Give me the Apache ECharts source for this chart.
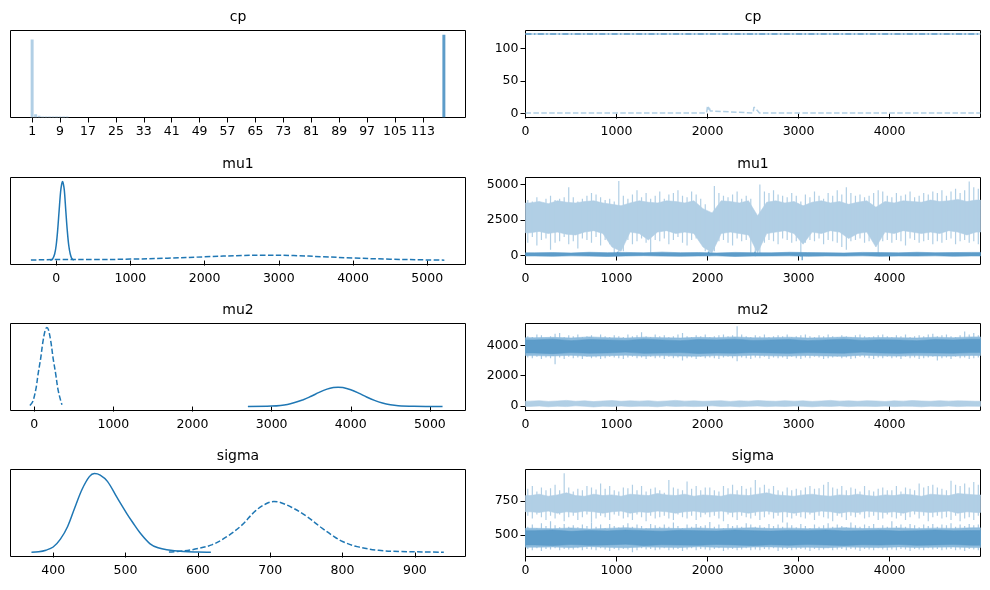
<!DOCTYPE html>
<html><head><meta charset="utf-8">
<script src="https://cdn.jsdelivr.net/npm/echarts@6/dist/echarts.min.js"></script>
<style>html,body{margin:0;padding:0;background:#fff}#c{width:990px;height:590px}</style>
</head><body><div id="c"></div>
<script>
// ================= DATA =================
const DRAWS = 5000;
const panelTitles = ['cp', 'mu1', 'mu2', 'sigma'];

// tick labels
const cpHistTicks = [1, 9, 17, 25, 33, 41, 49, 57, 65, 73, 81, 89, 97, 105, 113];
const mu1KdeTicks = [0, 1000, 2000, 3000, 4000, 5000];
const mu2KdeTicks = [0, 1000, 2000, 3000, 4000, 5000];
const sigmaKdeTicks = [400, 500, 600, 700, 800, 900];
const traceXTicks = [0, 1000, 2000, 3000, 4000];
const cpTraceYTicks = [0, 50, 100];
const mu1TraceYTicks = [0, 2500, 5000];
const mu2TraceYTicks = [0, 2000, 4000];
const sigmaTraceYTicks = [500, 750];

// cp histogram (relative heights)
const cpHistLightX = [1, 2, 3, 4, 5, 6, 7, 8, 9, 10, 11];
const cpHistLightH = [0.94, 0.04, 0.02, 0.012, 0.012, 0.012, 0.012, 0.012, 0.012, 0.012, 0.012];
const cpHistDarkX = [119];
const cpHistDarkH = [1.0];

// KDE curves (relative density)
const mu1SolidX = [-80, -50, -20, 0, 20, 40, 60, 75, 85, 95, 110, 130, 150, 170, 190, 210, 238];
const mu1SolidY = [0.005, 0.016, 0.083, 0.19, 0.38, 0.63, 0.87, 0.97, 1.0, 0.98, 0.89, 0.63, 0.38, 0.19, 0.083, 0.029, 0.005];
const mu1DashX = [-340, 0, 500, 1000, 1500, 2000, 2500, 2800, 3200, 3600, 4000, 4500, 5000, 5230];
const mu1DashY = [0.006, 0.012, 0.012, 0.018, 0.03, 0.047, 0.064, 0.068, 0.063, 0.048, 0.032, 0.017, 0.008, 0.005];
const mu2SolidX = [2700, 3000, 3200, 3400, 3500, 3600, 3700, 3780, 3840, 3900, 4000, 4100, 4200, 4300, 4400, 4500, 4600, 4800, 5000, 5160];
const mu2SolidY = [0.001, 0.006, 0.027, 0.086, 0.13, 0.179, 0.22, 0.24, 0.244, 0.24, 0.212, 0.17, 0.121, 0.078, 0.045, 0.023, 0.011, 0.003, 0.001, 0.0005];
const mu2DashX = [-55, -20, 20, 50, 80, 110, 140, 160, 180, 210, 240, 270, 300, 330, 350];
const mu2DashY = [0.013, 0.06, 0.216, 0.42, 0.6, 0.82, 0.97, 1.0, 0.97, 0.82, 0.6, 0.42, 0.216, 0.09, 0.022];
const sigmaSolidX = [370, 380, 390, 400, 410, 420, 430, 440, 450, 457, 465, 475, 488, 502, 510, 520, 534, 545, 557, 580, 600, 618];
const sigmaSolidY = [0.004, 0.01, 0.03, 0.07, 0.17, 0.33, 0.57, 0.8, 0.96, 1.0, 0.98, 0.9, 0.7, 0.49, 0.38, 0.25, 0.11, 0.06, 0.035, 0.013, 0.006, 0.003];
const sigmaDashX = [560, 580, 600, 620, 640, 660, 680, 695, 705, 715, 730, 750, 770, 787, 800, 820, 850, 880, 910, 940];
const sigmaDashY = [0.008, 0.02, 0.05, 0.1, 0.2, 0.34, 0.53, 0.62, 0.645, 0.63, 0.57, 0.46, 0.32, 0.21, 0.14, 0.075, 0.028, 0.014, 0.008, 0.004];

// ---- traces: per-bin envelopes, bins evenly spread over the 5000 draws ----
const cpLightTrace = [[0,1],[480,1],[500,4],[520,1],[970,1],[985,3],[1000,1],[1030,1],[1045,4],[1060,1],[1370,1],[1380,2],[1390,1],[1990,1],[2000,12],[2008,6],[2015,11],[2022,8],[2030,4],[2040,1],[2500,1],[2510,10],[2520,7],[2530,9],[2545,5],[2560,3],[2570,1],[3030,1],[3040,4],[3055,1],[3870,1],[3880,3],[3890,1],[4020,1],[4030,3],[4040,1],[4280,1],[4290,2],[4300,1],[4999,1]];
const cpDarkLevel = 122;

// mu1, chain far from the others: extremes (100 bins) and dense core (50 bins)
const mu1LightHi = [3900,3800,4100,3700,4000,4200,3900,4000,4100,4800, 4100,3800,4000,4200,4400,4300,4100,3900,4000,3800,
  5250,4200,4000,4300,4600,4100,4400,4000,4200,4500, 4000,4300,4400,4600,4200,4100,4500,4300,4000,3600,
  3000,4900,4400,4200,4100,4300,4500,4000,4200,4000, 2800,5000,4500,4400,4600,4300,4200,4100,4400,4200,
  3800,4300,4100,4500,4200,4000,4400,4200,4600,4300, 4800,4400,4200,4300,4100,4200,4400,4600,4500,4200,
  4100,4400,4200,4300,4500,4100,4200,4400,4300,4500, 4400,4600,4200,4500,4700,4400,4600,5200,4800,4700];
const mu1LightLo = [900,1300,700,1100,1200,400,900,1000,1300,800, 1000,500,1200,1100,900,1300,700,1100,800,100,
  0,300,1100,800,1000,1200,900,200,1100,1000, 1200,800,1100,1300,900,700,1100,1200,900,300,
  -50,300,1000,1100,900,700,1200,1000,1100,200, -50,100,900,1100,1000,800,1200,1100,900,1000,
  -100,900,1100,1000,1200,800,1100,1000,900,600, 400,1000,1100,1200,900,1000,1100,0,1000,1100,
  900,1100,1000,700,1200,1100,900,1000,1100,800, 1000,900,1100,1200,800,1000,1100,900,1000,800];
const mu1LightCoreHi = [3700,3800,3650,3850,3750, 3700,3800,3850,3700,3600, 3500,3700,3850,3750,3700, 3850,3800,3700,3850,3300,
  3000,3850,3800,3700,3850, 2800,3750,3850,3700,3800, 3500,3750,3850,3700,3800, 3600,3750,3850,3400,3800,
  3700,3850,3800,3750,3900, 3800,3850,3950,3800,3900];
const mu1LightCoreLo = [1600,1700,1550,1650,1500, 1450,1650,1750,1550,600, 300,1650,1550,1100,1650, 1750,1550,1650,1550,600,
  200,1550,1650,1550,1450, 200,1550,1650,1750,1550, 800,1650,1550,1750,1650, 1200,1550,1650,600,1650,
  1550,1750,1650,1550,1650, 1550,1750,1650,1450,1650];
const mu1DarkHi = [190,210,180,230,200,220,190,240,200,210,180,220,200,190,230,210,200,180,220,210,190,230,200,210,220];
const mu1DarkLo = [-30,-50,-20,-40,-60,-30,-10,-40,-50,-30,-20,-60,-40,-30,-20,-50,-30,-40,-20,-50,-30,-40,-20,-50,-30];
const mu1DarkCenter = 85;
const mu1DarkSpikes = [[3040, -330], [1010, 260], [2010, 280], [2520, 270]];

// mu2, three overlapping chains: extremes (100 bins), fringe and core (25 bins)
const mu2DarkHi = [4600,4550,4700,4650,4500,4600,4750,4800,4550,4650, 4600,4700,4550,4600,4650,4500,4700,4600,4550,4650,
  4600,4550,4700,4600,4650,4850,4600,4550,4700,4600, 4650,4550,4600,4700,4800,4600,4550,4650,4600,4700,
  4550,4600,4650,4700,4600,4650,5250,4700,4600,4550, 4650,4600,4700,4550,4600,4650,4600,4700,4550,4600,
  4650,4700,4600,4550,4650,4600,4700,4600,4550,4650, 4600,4550,4650,4700,4600,4550,4600,4650,4700,4600,
  4550,4650,4600,4700,4550,4600,4650,4600,4700,4750, 4600,4650,4700,4600,4550,4650,4900,4700,4800,4650];
const mu2DarkLo = [3200,3150,3250,3100,3200,3150,2750,3200,3100,3250, 3150,3200,3100,3250,3150,3200,3100,3150,3250,3200,
  3150,3100,3200,3250,3150,3200,3100,3250,3150,3200, 3100,3250,3150,3200,3000,3150,3200,3100,3250,3150,
  3200,3150,3100,3200,3250,3150,2950,3200,3150,3100, 3200,3150,3250,3100,3200,3150,3200,3100,3250,3150,
  3100,3200,3150,3250,3200,3100,3150,3200,3250,3150, 3200,3100,3150,3250,3200,3150,3100,3200,3150,3250,
  3150,3200,3100,3250,3150,3200,3100,3150,3200,3250, 3000,3150,3200,3100,3250,3150,3200,3100,3150,3200];
const mu2MidHi = [4500,4520,4480,4550,4500,4470,4530,4500,4480,4520,4500,4550,4490,4500,4530,4480,4500,4540,4490,4510,4500,4480,4530,4500,4550];
const mu2MidLo = [3320,3300,3340,3280,3310,3350,3290,3320,3300,3280,3320,3300,3340,3310,3290,3330,3300,3280,3350,3310,3290,3320,3300,3290,3330];
const mu2CoreHi = [4350,4400,4300,4380,4350,4320,4400,4350,4300,4380,4350,4400,4320,4350,4380,4300,4350,4400,4320,4360,4350,4300,4380,4350,4400];
const mu2CoreLo = [3500,3450,3520,3480,3500,3550,3470,3500,3520,3460,3500,3480,3530,3500,3470,3520,3500,3480,3550,3500,3470,3510,3500,3480,3520];
const mu2LightHi = [330,360,310,340,380,320,350,300,340,370,320,350,330,360,310,340,380,330,350,320,340,360,310,350,330,
  370,340,320,360,330,350,310,340,380,330,350,320,360,340,310,350,330,370,340,320,360,330,350,340,320];
const mu2LightLo = [-20,10,-40,0,-30,20,-10,-50,0,-20,10,-30,0,-10,-40,10,-20,0,-30,-10,20,-20,0,-40,-10,
  10,-30,0,-20,10,-10,-40,0,-20,10,-30,0,-10,-20,10,-30,0,-10,-40,0,-20,10,-30,0,-10];

// sigma
const sigmaLightHi = [840,860,820,850,830,845,870,830,955,850, 820,840,830,860,850,835,880,840,860,830,
  820,850,845,870,830,860,820,840,850,830, 810,905,850,840,830,895,840,860,830,850,
  850,830,820,860,845,870,830,860,840,850, 905,850,870,840,860,830,820,850,830,840,
  830,850,860,840,845,870,890,850,840,860, 830,850,840,820,860,830,820,840,850,830,
  830,860,820,850,840,830,880,850,860,870, 850,840,830,900,870,860,880,850,890,870];
const sigmaLightLo = [640,620,650,630,610,640,620,650,600,630, 640,610,630,650,590,620,640,630,610,650,
  640,620,630,610,650,630,600,640,620,630, 640,620,610,650,630,620,640,610,630,650,
  630,640,620,600,650,630,610,640,630,620, 640,610,630,650,620,640,590,630,620,640,
  630,620,650,610,640,630,620,600,640,630, 610,640,630,650,620,630,640,610,620,650,
  630,620,640,610,630,650,620,640,600,630, 640,620,630,610,640,600,620,630,610,640];
const sigmaLightCoreHi = [790,800,785,795,810,790,785,800,790,795, 785,800,795,790,805,795,790,800,785,795,
  790,785,800,795,790,800,810,795,790,785, 795,800,790,785,795,790,800,790,785,795, 790,800,795,785,800,795,790,805,800,795];
const sigmaLightCoreLo = [670,665,675,660,670,665,675,670,660,670, 675,660,670,665,675,670,660,670,675,665,
  670,675,665,670,660,670,675,665,670,660, 670,665,675,670,660,670,665,675,670,665, 670,660,675,670,665,670,675,660,670,665];
const sigmaDarkHi = [560,575,550,585,565,600,570,555,580,560, 570,555,575,565,590,560,575,550,580,565,
  555,570,585,560,575,565,550,580,570,560, 575,560,590,565,550,575,560,580,565,570,
  595,560,575,550,580,565,570,560,585,575, 560,570,555,580,565,575,560,590,570,555,
  580,565,550,575,560,570,585,560,575,565, 555,590,570,560,575,565,580,550,570,560,
  600,565,575,560,580,570,555,575,565,580, 560,575,570,585,560,575,565,580,570,575];
const sigmaDarkLo = [395,385,400,380,395,390,400,385,395,390, 390,400,385,395,390,385,400,390,380,395,
  385,395,390,370,385,400,390,395,385,390, 400,385,390,395,380,390,400,385,395,390,
  385,395,400,380,390,395,385,390,400,385, 390,385,395,390,400,380,390,395,385,390,
  395,390,380,395,385,390,400,385,390,395, 385,395,390,380,395,390,385,400,390,385,
  390,385,395,390,380,395,390,385,400,390, 395,385,390,395,385,390,380,395,390,385];
const sigmaMidHi = [548,545,550,543,547,552,545,548,546,550,544,548,551,546,549,545,547,552,546,548,550,545,549,547,551];
const sigmaMidLo = [408,410,405,412,407,404,410,408,406,411,407,405,409,410,406,408,404,409,407,405,410,406,408,409,405];
const sigmaCoreHi = [530,535,525,532,528,535,530,526,533,530,528,535,530,527,532,530,535,528,530,533,527,530,535,529,531];
const sigmaCoreLo = [425,420,428,422,425,430,420,426,424,422,428,425,420,426,423,427,425,421,426,424,428,422,425,427,423];

// ================= LAYOUT / STYLE =================
const FONT = 'DejaVu Sans';
const C0 = '#1f77b4', LIGHT = '#b1cfe5', DARK = '#5d9cc9', MID = '#8fbcdd', HAIR = '#a9cae3';
const LX = 10.5, RX = 525.5, W = 455, H = 87;
const TOPS = [30.5, 177.5, 323.5, 469.5];

const leftX = [
  {min: -5.2, max: 125.2, ticks: cpHistTicks},
  {min: -615, max: 5515, ticks: mu1KdeTicks},
  {min: -300, max: 5450, ticks: mu2KdeTicks},
  {min: 341, max: 970, ticks: sigmaKdeTicks}
];
const leftY = [[0, 1.05], [-0.05, 1.05], [-0.05, 1.05], [-0.05, 1.05]];
const rightY = [
  {min: -6, max: 127.5, ticks: cpTraceYTicks},
  {min: -630, max: 5490, ticks: mu1TraceYTicks},
  {min: -285, max: 5430, ticks: mu2TraceYTicks},
  {min: 339, max: 983, ticks: sigmaTraceYTicks}
];

const labelStyle = {fontFamily: FONT, fontSize: 12.5, color: '#000', formatter: v => String(v)};
const tickStyle = {show: true, length: 5, inside: false, lineStyle: {color: '#000', width: 1}};

const grids = [], xAxes = [], yAxes = [], series = [], graphics = [];
for (let r = 0; r < 4; r++) {
  grids.push({left: LX, top: TOPS[r], width: W, height: H, show: true, borderColor: '#000', borderWidth: 1, backgroundColor: 'transparent'});
  grids.push({left: RX, top: TOPS[r], width: W, height: H, show: true, borderColor: '#000', borderWidth: 1, backgroundColor: 'transparent'});
  xAxes.push({type: 'value', gridIndex: 2 * r, min: leftX[r].min, max: leftX[r].max,
    axisLine: {show: false}, splitLine: {show: false},
    axisTick: Object.assign({}, tickStyle, {customValues: leftX[r].ticks}),
    axisLabel: Object.assign({}, labelStyle, {margin: 8, customValues: leftX[r].ticks})});
  xAxes.push({type: 'value', gridIndex: 2 * r + 1, min: 0, max: DRAWS - 1,
    axisLine: {show: false}, splitLine: {show: false},
    axisTick: Object.assign({}, tickStyle, {customValues: traceXTicks}),
    axisLabel: Object.assign({}, labelStyle, {margin: 8, customValues: traceXTicks})});
  yAxes.push({type: 'value', gridIndex: 2 * r, min: leftY[r][0], max: leftY[r][1],
    axisLine: {show: false}, splitLine: {show: false}, axisTick: {show: false}, axisLabel: {show: false}});
  yAxes.push({type: 'value', gridIndex: 2 * r + 1, min: rightY[r].min, max: rightY[r].max,
    axisLine: {show: false}, splitLine: {show: false},
    axisTick: Object.assign({}, tickStyle, {customValues: rightY[r].ticks}),
    axisLabel: Object.assign({}, labelStyle, {margin: 7, customValues: rightY[r].ticks})});
  [LX, RX].forEach(function (gx) {
    graphics.push({type: 'text', x: gx + W / 2, y: TOPS[r] - 13.5, silent: true,
      style: {text: panelTitles[r], font: '14px "DejaVu Sans"', fill: '#000', textAlign: 'center', textVerticalAlign: 'middle'}});
  });
}

function zip(xs, ys) { return xs.map((x, i) => [x, ys[i]]); }

function kde(ax, xs, ys, dashed) {
  return {type: 'line', xAxisIndex: ax, yAxisIndex: ax, data: zip(xs, ys), showSymbol: false, smooth: 0.35,
    silent: true, clip: true, lineStyle: {color: C0, width: 1.5, type: dashed ? [5.5, 2.4] : 'solid'}};
}

function bars(ax, xs, hs, color) {
  return {type: 'custom', xAxisIndex: ax, yAxisIndex: ax, data: zip(xs, hs), silent: true, clip: true,
    renderItem: function (params, api) {
      const x = api.value(0), h = api.value(1), w = 0.85;
      const p0 = api.coord([x - w / 2, h]), p1 = api.coord([x + w / 2, 0]);
      return {type: 'rect', shape: {x: p0[0], y: p0[1], width: p1[0] - p0[0], height: p1[1] - p0[1]}, style: {fill: color}};
    }};
}

// filled band between per-bin lo and hi
function band(ax, hi, lo, color) {
  return {type: 'custom', xAxisIndex: ax, yAxisIndex: ax, data: [[0, hi[0]]], silent: true, clip: true,
    renderItem: function (params, api) {
      const n = hi.length, w = DRAWS / n, pts = [];
      pts.push(api.coord([0, hi[0]]));
      for (let i = 0; i < n; i++) pts.push(api.coord([(i + 0.5) * w, hi[i]]));
      pts.push(api.coord([DRAWS - 1, hi[n - 1]]));
      pts.push(api.coord([DRAWS - 1, lo[n - 1]]));
      for (let i = n - 1; i >= 0; i--) pts.push(api.coord([(i + 0.5) * w, lo[i]]));
      pts.push(api.coord([0, lo[0]]));
      return {type: 'polygon', shape: {points: pts}, style: {fill: color, stroke: color, lineWidth: 0.6}};
    }};
}

// per-bin vertical extent strokes (trace excursions)
function hairs(ax, hi, lo, color) {
  const w = DRAWS / hi.length;
  return {type: 'custom', xAxisIndex: ax, yAxisIndex: ax, silent: true, clip: true,
    data: hi.map((h, i) => [(i + 0.5) * w, lo[i], h]),
    renderItem: function (params, api) {
      const a = api.coord([api.value(0), api.value(1)]), b = api.coord([api.value(0), api.value(2)]);
      return {type: 'line', shape: {x1: a[0], y1: a[1], x2: b[0], y2: b[1]}, style: {stroke: color, lineWidth: 1.2}};
    }};
}

function spikes(ax, list, center, color) {
  return {type: 'custom', xAxisIndex: ax, yAxisIndex: ax, data: list, silent: true, clip: true,
    renderItem: function (params, api) {
      const a = api.coord([api.value(0), center]), b = api.coord([api.value(0), api.value(1)]);
      return {type: 'line', shape: {x1: a[0], y1: a[1], x2: b[0], y2: b[1]}, style: {stroke: color, lineWidth: 1.2}};
    }};
}

// Row 0: cp
series.push(bars(0, cpHistLightX, cpHistLightH, LIGHT));
series.push(bars(0, cpHistDarkX, cpHistDarkH, DARK));
series.push({type: 'line', xAxisIndex: 1, yAxisIndex: 1, data: cpLightTrace, showSymbol: false, silent: true,
  lineStyle: {color: LIGHT, width: 1.5, type: [5.5, 2.4]}});
series.push({type: 'line', xAxisIndex: 1, yAxisIndex: 1, data: [[0, cpDarkLevel], [DRAWS - 1, cpDarkLevel]], showSymbol: false, silent: true,
  lineStyle: {color: LIGHT, width: 1.5}});
series.push({type: 'line', xAxisIndex: 1, yAxisIndex: 1, data: [[0, cpDarkLevel], [DRAWS - 1, cpDarkLevel]], showSymbol: false, silent: true,
  lineStyle: {color: DARK, width: 1.5, type: [6, 2.4, 1.5, 2.4]}});

// Row 1: mu1
series.push(kde(2, mu1DashX, mu1DashY, true));
series.push(kde(2, mu1SolidX, mu1SolidY, false));
series.push(band(3, mu1LightCoreHi, mu1LightCoreLo, LIGHT));
series.push(hairs(3, mu1LightHi, mu1LightLo, LIGHT));
series.push(spikes(3, mu1DarkSpikes, mu1DarkCenter, DARK));
series.push(band(3, mu1DarkHi, mu1DarkLo, DARK));

// Row 2: mu2
series.push(kde(4, mu2DashX, mu2DashY, true));
series.push(kde(4, mu2SolidX, mu2SolidY, false));
series.push(band(5, mu2LightHi, mu2LightLo, LIGHT));
series.push(hairs(5, mu2DarkHi, mu2DarkLo, HAIR));
series.push(band(5, mu2MidHi, mu2MidLo, MID));
series.push(band(5, mu2CoreHi, mu2CoreLo, DARK));

// Row 3: sigma
series.push(kde(6, sigmaDashX, sigmaDashY, true));
series.push(kde(6, sigmaSolidX, sigmaSolidY, false));
series.push(band(7, sigmaLightCoreHi, sigmaLightCoreLo, LIGHT));
series.push(hairs(7, sigmaLightHi, sigmaLightLo, LIGHT));
series.push(hairs(7, sigmaDarkHi, sigmaDarkLo, HAIR));
series.push(band(7, sigmaMidHi, sigmaMidLo, MID));
series.push(band(7, sigmaCoreHi, sigmaCoreLo, DARK));

const chart = echarts.init(document.getElementById('c'), null, {renderer: 'canvas', width: 990, height: 590});
chart.setOption({
  animation: false,
  backgroundColor: '#fff',
  textStyle: {fontFamily: FONT},
  grid: grids, xAxis: xAxes, yAxis: yAxes, series: series, graphic: graphics
});
</script></body></html>
